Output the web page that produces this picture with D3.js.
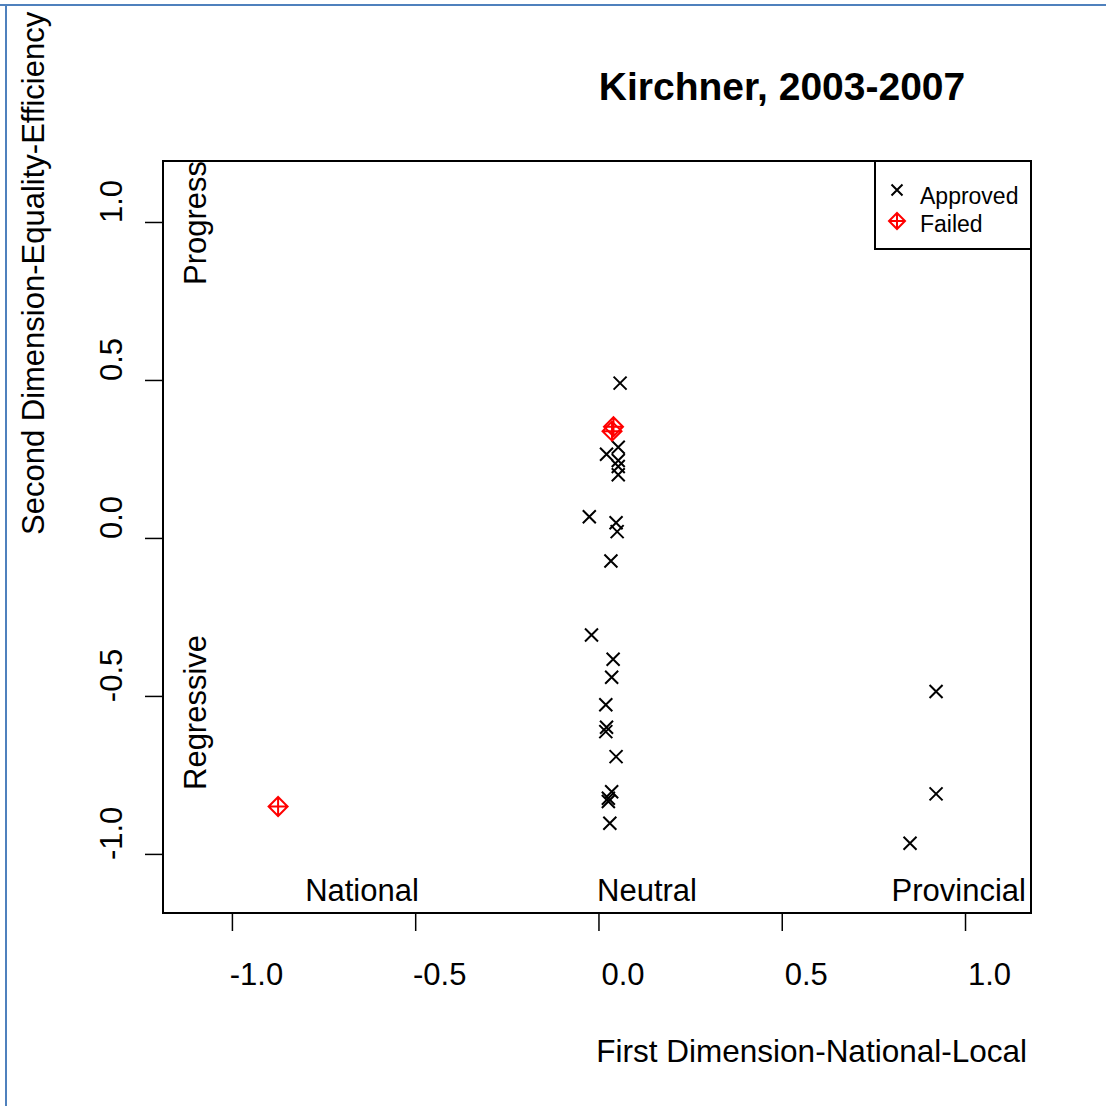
<!DOCTYPE html>
<html>
<head>
<meta charset="utf-8">
<script src="https://cdn.jsdelivr.net/npm/d3@7"></script>
<style>
  body { margin: 0; background: #fff; }
  svg { display: block; font-family: "Liberation Sans", Arial, sans-serif; }
</style>
</head>
<body>
<div id="chart"></div>
<script>
// data
const approvedX = [0.059, 0.054, 0.022, 0.054, 0.054, 0.054, -0.025, 0.048, 0.051, 0.034,
                   -0.019, 0.040, 0.036, 0.020, 0.022, 0.020, 0.048, 0.036, 0.027, 0.027, 0.031,
                   0.921, 0.921, 0.850];
const approvedY = [0.490, 0.287, 0.265, 0.245, 0.226, 0.200, 0.067, 0.048, 0.020, -0.073,
                   -0.307, -0.384, -0.441, -0.528, -0.599, -0.613, -0.692, -0.803, -0.824, -0.834, -0.903,
                   -0.486, -0.810, -0.966];
const failedX = [0.041, 0.037, -0.874];
const failedY = [0.352, 0.338, -0.850];
const xTicks = [-1.0, -0.5, 0.0, 0.5, 1.0];
const yTicks = [-1.0, -0.5, 0.0, 0.5, 1.0];
const legendLabels = ["Approved", "Failed"];

const W = 1106, H = 1106;
const box = {left: 163, right: 1031, top: 161, bottom: 913};
const fmt = d => d.toFixed(1);   // plain hyphen, like R

const svg = d3.select("#chart").append("svg")
    .attr("width", W)
    .attr("height", H);

// blue page frame
svg.append("line").attr("x1", 0).attr("x2", W).attr("y1", 5).attr("y2", 5)
    .attr("stroke", "#4f81bd").attr("stroke-width", 2);
svg.append("line").attr("x1", 6).attr("x2", 6).attr("y1", 4).attr("y2", H)
    .attr("stroke", "#4f81bd").attr("stroke-width", 2);

// scales
const x = d3.scaleLinear().domain([-1.188, 1.18]).range([box.left, box.right]);
const y = d3.scaleLinear().domain([-1.187, 1.193]).range([box.bottom, box.top]);

svg.append("defs").append("clipPath").attr("id", "plotClip")
    .append("rect")
    .attr("x", box.left).attr("y", box.top)
    .attr("width", box.right - box.left).attr("height", box.bottom - box.top);

// axes
const xAxis = svg.append("g")
    .attr("transform", `translate(0,${box.bottom})`)
    .call(d3.axisBottom(x).tickValues(xTicks).tickSize(18).tickSizeOuter(0).tickFormat(fmt));
xAxis.select(".domain").remove();
xAxis.selectAll(".tick line").attr("stroke", "#000").attr("stroke-width", 1.5);
xAxis.selectAll(".tick text")
    .attr("fill", "#000")
    .style("font-size", "31px")
    .attr("x", 24)
    .attr("y", 72)
    .attr("dy", 0);

const yAxis = svg.append("g")
    .attr("transform", `translate(${box.left},0)`)
    .call(d3.axisLeft(y).tickValues(yTicks).tickSize(18).tickSizeOuter(0).tickFormat(fmt));
yAxis.select(".domain").remove();
yAxis.selectAll(".tick line").attr("stroke", "#000").attr("stroke-width", 1.5);
yAxis.selectAll(".tick text")
    .attr("fill", "#000")
    .style("font-size", "31px")
    .attr("x", null).attr("dy", null)
    .attr("text-anchor", "middle")
    .attr("transform", "translate(-41,-21) rotate(-90)");

// plot frame
svg.append("rect")
    .attr("x", box.left).attr("y", box.top)
    .attr("width", box.right - box.left).attr("height", box.bottom - box.top)
    .attr("fill", "none").attr("stroke", "#000").attr("stroke-width", 2);

// titles
svg.append("text")
    .attr("x", 782).attr("y", 100)
    .attr("text-anchor", "middle")
    .style("font-size", "39px").style("font-weight", "bold")
    .text("Kirchner, 2003-2007");

svg.append("text")
    .attr("x", 1027).attr("y", 1062)
    .attr("text-anchor", "end")
    .style("font-size", "31.5px")
    .text("First Dimension-National-Local");

svg.append("text")
    .attr("transform", "translate(44,535) rotate(-90)")
    .style("font-size", "31px")
    .text("Second Dimension-Equality-Efficiency");

// labels inside the plot
const inner = svg.append("g").attr("clip-path", "url(#plotClip)");
inner.append("text").attr("x", 362).attr("y", 901).attr("text-anchor", "middle")
    .style("font-size", "31px").text("National");
inner.append("text").attr("x", 647).attr("y", 901).attr("text-anchor", "middle")
    .style("font-size", "31px").text("Neutral");
inner.append("text").attr("x", 1026).attr("y", 901).attr("text-anchor", "end")
    .style("font-size", "31px").text("Provincial");
inner.append("text").attr("transform", "translate(206,285) rotate(-90)")
    .style("font-size", "31px").text("Progressive");
inner.append("text").attr("transform", "translate(206,790) rotate(-90)")
    .style("font-size", "31px").text("Regressive");

// symbols
function cross(g, s) {
    g.append("path")
        .attr("d", `M${-s},${-s}L${s},${s}M${-s},${s}L${s},${-s}`)
        .attr("stroke", "#000").attr("stroke-width", 2).attr("fill", "none");
}
function diamondPlus(g, s) {
    g.append("path")
        .attr("d", `M0,${-s}L${s},0L0,${s}L${-s},0ZM${-s},0L${s},0M0,${-s}L0,${s}`)
        .attr("stroke", "#ff0000").attr("stroke-width", 2).attr("fill", "none");
}

const approved = approvedX.map((d, i) => ({x: d, y: approvedY[i]}));
const failed = failedX.map((d, i) => ({x: d, y: failedY[i]}));

svg.selectAll(".approved")
    .data(approved)
    .enter()
    .append("g")
    .attr("class", "approved")
    .attr("transform", d => `translate(${x(d.x)},${y(d.y)})`)
    .each(function() { cross(d3.select(this), 6.5); });

svg.selectAll(".failed")
    .data(failed)
    .enter()
    .append("g")
    .attr("class", "failed")
    .attr("transform", d => `translate(${x(d.x)},${y(d.y)})`)
    .each(function() { diamondPlus(d3.select(this), 9.5); });

// legend
const legend = svg.append("g");
legend.append("rect")
    .attr("x", 875).attr("y", box.top)
    .attr("width", box.right - 875).attr("height", 249 - box.top)
    .attr("fill", "#fff").attr("stroke", "#000").attr("stroke-width", 2);
cross(legend.append("g").attr("transform", "translate(897,190)"), 5.5);
diamondPlus(legend.append("g").attr("transform", "translate(897,221)"), 8);
legend.selectAll(".lab")
    .data(legendLabels)
    .enter()
    .append("text")
    .attr("x", 920)
    .attr("y", (d, i) => 204 + i * 28)
    .style("font-size", "23px")
    .text(d => d);
</script>
</body>
</html>
